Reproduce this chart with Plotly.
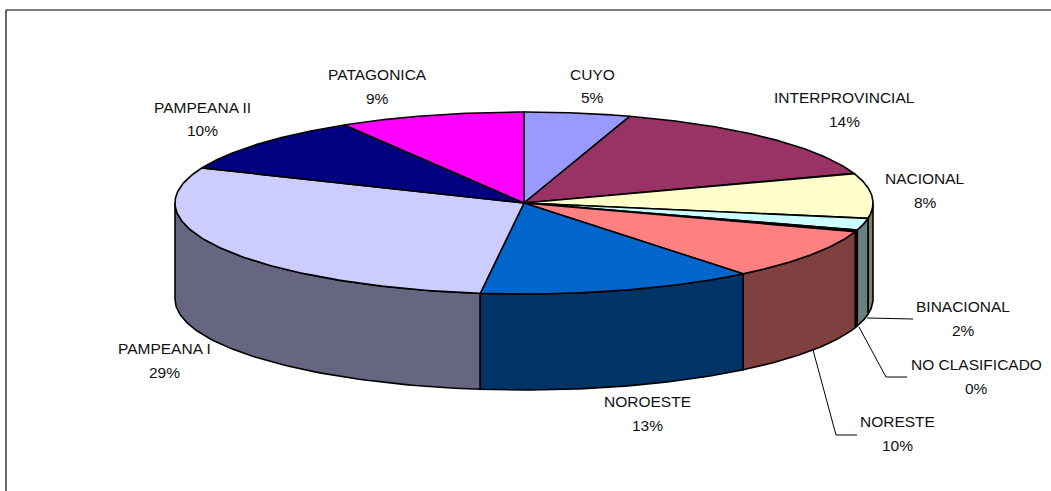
import numpy as np
import plotly.graph_objects as go

categories = ["CUYO", "INTERPROVINCIAL", "NACIONAL", "BINACIONAL", "NO CLASIFICADO",
              "NORESTE", "NOROESTE", "PAMPEANA I", "PAMPEANA II", "PATAGONICA"]
values = [4.9, 14.8, 8.0, 2.1, 0.3, 9.1, 12.8, 29.3, 10.1, 8.6]
percent_labels = ["5%", "14%", "8%", "2%", "0%", "10%", "13%", "29%", "10%", "9%"]
top_colors = ["#9999FF", "#993366", "#FFFFCC", "#CCFFFF", "#660066",
              "#FF8080", "#0066CC", "#CCCCFF", "#000080", "#FF00FF"]
side_colors = ["#666699", "#662244", "#80806A", "#668080", "#330033",
               "#804040", "#003366", "#666680", "#000040", "#800080"]
label_x = [592, 844, 925, 963, 976, 897, 647, 164, 202, 377]
name_y = [74, 97, 178, 306, 364, 421, 401, 348, 107, 74]
percent_y = [97, 121, 202, 330, 388, 445, 425, 372, 130, 98]
leader_x = [[867, 913], [859, 886, 907], [813, 836, 857]]
leader_y = [[318, 319], [327, 377, 377], [350, 435, 435]]
leader_names = ["BINACIONAL", "NO CLASIFICADO", "NORESTE"]

W, H = 1051, 491
CX, CY, RX, RY, DEPTH = 524, 203, 349, 91, 96
FONT = dict(family="Liberation Sans, Arial, sans-serif", size=15.5, color="#111111")


def rim(t):
    return CX + RX * np.sin(t), CY - RY * np.cos(t)


fractions = np.array(values) / sum(values)
edges = np.concatenate([[0], np.cumsum(fractions)]) * 2 * np.pi

fig = go.Figure()


def poly(x, y, color, width=1.6):
    fig.add_trace(go.Scatter(x=x, y=y, mode="lines", fill="toself", fillcolor=color,
                             line=dict(color="black", width=width), hoverinfo="skip",
                             showlegend=False))


# outer walls: drawn for the visible (front) part of the rim, back to front
front = []
for i in range(len(values)):
    a = max(edges[i], np.pi / 2)
    b = min(edges[i + 1], 3 * np.pi / 2)
    if b > a:
        front.append((abs((a + b) / 2 - np.pi), i, a, b))
for _, i, a, b in sorted(front, reverse=True):
    t = np.linspace(a, b, 80)
    x, y = rim(t)
    poly(np.r_[x, x[::-1], x[0]], np.r_[y, y[::-1] + DEPTH, y[0]], side_colors[i])

# top faces
for i in range(len(values)):
    t = np.linspace(edges[i], edges[i + 1], 120)
    x, y = rim(t)
    poly(np.r_[CX, x, CX], np.r_[CY, y, CY], top_colors[i])

# leader lines
for name, lx, ly in zip(leader_names, leader_x, leader_y):
    fig.add_trace(go.Scatter(x=lx, y=ly, mode="lines", line=dict(color="black", width=1),
                             hoverinfo="skip", showlegend=False, name=name))

# data labels
for c, p, x, yn, yp in zip(categories, percent_labels, label_x, name_y, percent_y):
    for text, y in ((c, yn), (p, yp)):
        fig.add_annotation(x=x, y=y, text=text, showarrow=False, xanchor="center",
                           yanchor="middle", align="center", font=FONT)

fig.update_layout(
    width=W, height=H, margin=dict(l=0, r=0, t=0, b=0),
    paper_bgcolor="white", plot_bgcolor="white",
    xaxis=dict(range=[0, W], visible=False, fixedrange=True),
    yaxis=dict(range=[H, 0], visible=False, fixedrange=True),
    shapes=[dict(type="line", xref="paper", yref="paper", x0=6 / W, x1=6 / W, y0=0, y1=1 - 10 / H,
                 line=dict(color="black", width=1.2)),
            dict(type="line", xref="paper", yref="paper", x0=6 / W, x1=1, y0=1 - 10 / H, y1=1 - 10 / H,
                 line=dict(color="black", width=1.2))],
)
fig.write_html("out.html", config={"displayModeBar": False},
               post_script="document.body.style.margin='0';document.documentElement.style.overflow='hidden';")
